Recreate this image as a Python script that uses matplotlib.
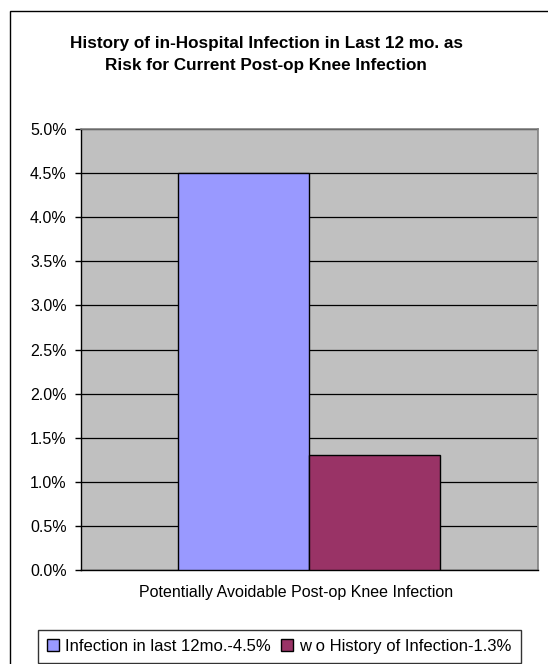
import matplotlib
matplotlib.use("Agg")
import matplotlib.pyplot as plt
from matplotlib.patches import Rectangle
from matplotlib.ticker import FuncFormatter, MultipleLocator

# data
category = ["Potentially Avoidable Post-op Knee Infection"]
series = ["Infection in last 12mo.-4.5%", "w o History of Infection-1.3%"]
values = [4.5, 1.3]          # percent
colors = ["#9999FF", "#993366"]

plt.rcParams["font.family"] = ["Liberation Sans", "DejaVu Sans"]

W, H = 548, 664
fig = plt.figure(figsize=(W / 100, H / 100), dpi=100)
fig.patch.set_facecolor("white")

# chart border (runs off the right and bottom edges)
fig.add_artist(Rectangle((9.5 / W, -0.05), 1.0, 1 - 11 / H + 0.05,
                         transform=fig.transFigure, fill=False,
                         edgecolor="black", lw=1.0))

ax = fig.add_axes([80.5 / W, 1 - 570 / H, (538 - 80.5) / W, (570 - 129) / H])
ax.set_facecolor("#C0C0C0")

bw = 0.2865
offsets = [-bw / 2, bw / 2]
for off, v, c, lab in zip(offsets, values, colors, series):
    ax.bar(off, v, width=bw, color=c, edgecolor="black", lw=1.0,
           label=lab, zorder=3)

ax.set_xlim(-0.5, 0.5)
ax.set_ylim(0, 5.0)
ax.yaxis.set_major_locator(MultipleLocator(0.5))
ax.yaxis.set_major_formatter(FuncFormatter(lambda v, _: f"{v:.1f}%"))
ax.yaxis.grid(True, color="black", lw=0.9)
ax.set_axisbelow(True)
ax.set_xticks([])
ax.tick_params(axis="y", length=4, width=1, color="black",
               labelsize=11.5, pad=6)

for s in ("top", "right"):
    ax.spines[s].set_color("#808080")
    ax.spines[s].set_linewidth(1.2)
for s in ("left", "bottom"):
    ax.spines[s].set_color("black")
    ax.spines[s].set_linewidth(1.0)

fig.text(296 / W, 1 - 593 / H, category[0], ha="center", va="center",
         fontsize=11.5)

fig.text(266 / W, 1 - 54.5 / H,
         "History of in-Hospital Infection in Last 12 mo. as\n"
         "Risk for Current Post-op Knee Infection",
         ha="center", va="center", fontsize=12.3, fontweight="bold",
         linespacing=1.55)

leg = fig.legend(loc="center", bbox_to_anchor=(279.5 / W, 1 - 646.5 / H),
                 ncol=2, frameon=True, fancybox=False, fontsize=12,
                 handlelength=0.7, handleheight=0.7, handletextpad=0.4,
                 columnspacing=0.6, borderpad=0.55, borderaxespad=0)
leg.get_frame().set_edgecolor("black")
leg.get_frame().set_linewidth(1.0)

fig.savefig("out.png", dpi=100)
